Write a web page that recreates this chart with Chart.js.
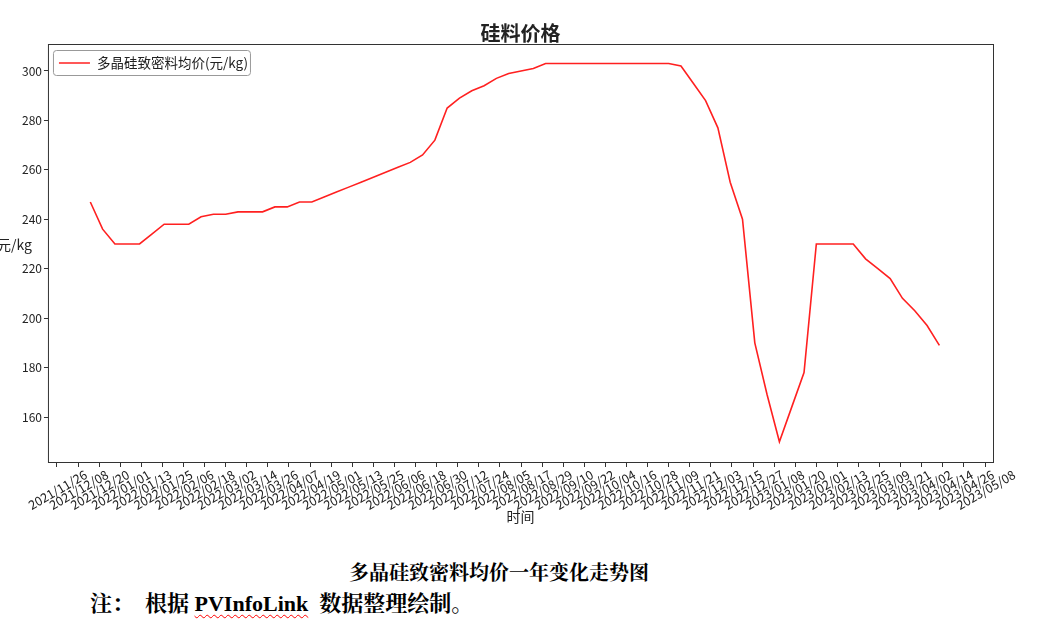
<!DOCTYPE html>
<html><head><meta charset="utf-8">
<script src="https://cdn.jsdelivr.net/npm/chart.js@4/dist/chart.umd.min.js"></script>
<style>
body{margin:0;background:#fff;width:1044px;height:620px;overflow:hidden;font-family:"Noto Sans CJK SC";}
#wrap{position:absolute;left:0;top:0;width:1044px;height:530px;}
#cap{position:absolute;top:557px;left:349px;font:bold 20px "Noto Serif CJK SC","Noto Sans CJK SC",serif;color:#000;white-space:nowrap;}
#note{position:absolute;top:586px;left:90px;font:bold 22px "Noto Serif CJK SC","Noto Sans CJK SC",serif;color:#000;white-space:pre;}
#note span{font-family:"Liberation Serif",serif;text-decoration:underline wavy red;text-decoration-thickness:1px;text-underline-offset:3px;}
</style></head><body>
<div id="wrap"><canvas id="c" width="1044" height="530"></canvas></div>
<div id="cap">多晶硅致密料均价一年变化走势图</div>
<div id="note">注：  根据 <span>PVInfoLink</span>  数据整理绘制。</div>
<script>
const seriesName = "多晶硅致密料均价(元/kg)";
const firstDate = "2021/12/15";   // weekly observations
const prices = [247,236,230,230,230,234,238,238,238,241,242,242,243,243,243,245,245,247,247,
249,251,253,255,257,259,261,263,266,272,285,289,292,294,297,299,300,301,303,
303,303,303,303,303,303,303,303,303,303,302,295,288,277,255,240,190,169,150,164,178,
230,230,230,230,224,220,216,208,203,197,189];
const yTicks = [160,180,200,220,240,260,280,300];
const tickStart = "2021/11/26", tickStepDays = 12, tickCount = 45;

const DAY = 86400000;
const t0 = new Date(tickStart.replace(/\//g,'-')+'T00:00:00Z').getTime();
const d0 = (new Date(firstDate.replace(/\//g,'-')+'T00:00:00Z').getTime()-t0)/DAY;
const pts = prices.map((v,i)=>({x:d0+7*i,y:v}));
const fmt = d=>{const dt=new Date(t0+d*DAY);return dt.getUTCFullYear()+'/'+String(dt.getUTCMonth()+1).padStart(2,'0')+'/'+String(dt.getUTCDate()).padStart(2,'0');};
const xTicks=[];for(let i=0;i<tickCount;i++)xTicks.push(i*tickStepDays);

const font="'Noto Sans CJK SC'";
const deco={id:'deco',afterDraw(c){const g=c.ctx,a=c.chartArea;g.save();
 g.strokeStyle='#333';g.lineWidth=1;g.strokeRect(a.left+0.5,a.top+0.5,a.right-a.left,a.bottom-a.top);
 g.fillStyle='#222';g.textAlign='center';g.textBaseline='middle';
 g.font="bold 20px "+font;g.fillText('硅料价格',(a.left+a.right)/2,33);
 g.font="14px "+font;g.fillText('时间',(a.left+a.right)/2,517);
 g.textAlign='left';g.fillText('元/kg',-3,245);
 const lx=a.left+5,ly=a.top+6;g.strokeStyle='#999';g.fillStyle='#fff';
 g.beginPath();g.roundRect(lx+0.5,ly+0.5,197,25,3);g.fill();g.stroke();
 g.strokeStyle='#ff2020';g.lineWidth=1.5;g.beginPath();g.moveTo(lx+6,ly+13);g.lineTo(lx+37,ly+13);g.stroke();
 g.fillStyle='#222';g.font="13.5px "+font;g.fillText(seriesName,lx+44,ly+13);
 g.restore();}};
new Chart(document.getElementById('c'),{type:'line',
 data:{datasets:[{data:pts,borderColor:'#ff2020',borderWidth:1.6,pointRadius:0,tension:0,fill:false}]},
 options:{responsive:false,animation:false,
  layout:{padding:{left:0,right:51,top:44,bottom:0}},
  plugins:{legend:{display:false},tooltip:{enabled:false}},
  scales:{
   x:{type:'linear',min:-5.1,max:532.5,bounds:'data',
    afterBuildTicks:s=>{s.ticks=xTicks.map(v=>({value:v}));},
    afterFit:s=>{s.height=68;},
    grid:{drawOnChartArea:false,drawTicks:true,tickLength:5,color:'#333'},border:{display:false},
    ticks:{autoSkip:false,maxRotation:30,minRotation:30,labelOffset:29,color:'#222',font:{family:font,size:12.5},padding:0,callback:v=>fmt(v)}},
   y:{min:141.8,max:310.9,
    afterBuildTicks:s=>{s.ticks=yTicks.map(v=>({value:v}));},
    afterFit:s=>{s.width=39;},
    grid:{drawOnChartArea:false,drawTicks:true,tickLength:4,color:'#333'},border:{display:false},
    ticks:{color:'#222',font:{family:font,size:12},padding:2}}
  }},plugins:[deco]});
</script></body></html>
